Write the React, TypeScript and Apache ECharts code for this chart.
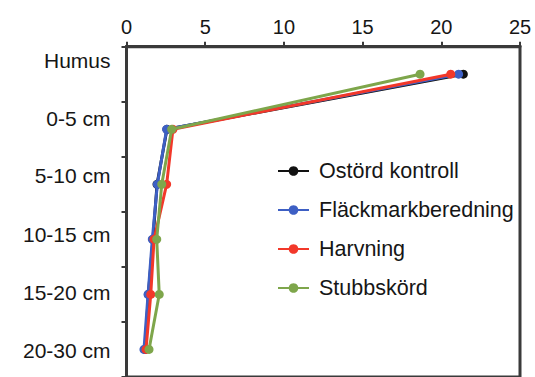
import React, { useEffect, useRef } from "react";
import * as echarts from "echarts";

const categories = ["Humus", "0-5 cm", "5-10 cm", "10-15 cm", "15-20 cm", "20-30 cm"];
const seriesNames = ["Ostörd kontroll", "Fläckmarkberedning", "Harvning", "Stubbskörd"];
const ostord = [21.4, 2.57, 1.94, 1.68, 1.39, 1.18];
const flackmark = [21.1, 2.55, 1.96, 1.64, 1.37, 1.11];
const harvning = [20.6, 2.95, 2.55, 1.75, 1.54, 1.24];
const stubbskord = [18.65, 2.87, 2.24, 1.92, 2.08, 1.43];
const xTicks = { min: 0, max: 25, interval: 5 };

const colors = ["#111111", "#3d5fc4", "#f2382a", "#7ea64b"];
const labelShift = [-13.8, -10.9, -8.6, -5, -2.1, 0.9];
const FONT = "'Liberation Sans', Arial, Helvetica, sans-serif";

export default function App() {
  const ref = useRef<HTMLDivElement>(null);
  useEffect(() => {
    if (!ref.current) return;
    const chart = echarts.init(ref.current, undefined, { renderer: "svg" });
    const rich: Record<string, any> = {};
    labelShift.forEach((d, i) => {
      rich["a" + i] = {
        fontSize: 21,
        fontFamily: FONT,
        color: "#161616",
        padding: d < 0 ? [0, 0, -2 * d, 0] : [2 * d, 0, 0, 0],
      };
    });
    const data = [ostord, flackmark, harvning, stubbskord];
    chart.setOption({
      animation: false,
      backgroundColor: "#ffffff",
      grid: {
        left: 126.5,
        right: 15,
        top: 46.7,
        height: 333,
        show: true,
        borderColor: "#3a3a3a",
        borderWidth: 3,
        backgroundColor: "transparent",
      },
      xAxis: {
        type: "value",
        position: "top",
        min: xTicks.min,
        max: xTicks.max,
        interval: xTicks.interval,
        splitLine: { show: false },
        axisLine: { show: true, lineStyle: { color: "#3a3a3a", width: 3 } },
        axisTick: { show: true, length: 5, lineStyle: { color: "#3a3a3a", width: 2 } },
        axisLabel: { fontSize: 20, fontFamily: FONT, color: "#161616", margin: 10 },
      },
      yAxis: {
        type: "category",
        inverse: true,
        data: categories,
        boundaryGap: true,
        axisLine: { show: true, lineStyle: { color: "#3a3a3a", width: 3 } },
        axisTick: { show: true, length: 5, lineStyle: { color: "#3a3a3a", width: 2 } },
        axisLabel: {
          margin: 16,
          formatter: (v: string, i: number) => `{a${i}|${v}}`,
          rich,
        },
        splitLine: { show: false },
      },
      legend: {
        orient: "vertical",
        left: 272,
        top: 155,
        itemWidth: 31,
        itemHeight: 12,
        itemGap: 17,
        textStyle: { fontSize: 21.5, fontFamily: FONT, color: "#161616", padding: [0, 0, 0, 5] },
        data: seriesNames,
      },
      series: seriesNames.map((name, i) => ({
        name,
        type: "line",
        data: data[i],
        color: colors[i],
        symbol: "circle",
        symbolSize: 9,
        lineStyle: { width: 3, color: colors[i] },
        itemStyle: { color: colors[i] },
        z: 2 + i,
      })),
    });
    return () => chart.dispose();
  }, []);
  return (
    <div
      ref={ref}
      style={{ position: "fixed", left: 0, top: 0, width: 535, height: 377, overflow: "hidden" }}
    />
  );
}
